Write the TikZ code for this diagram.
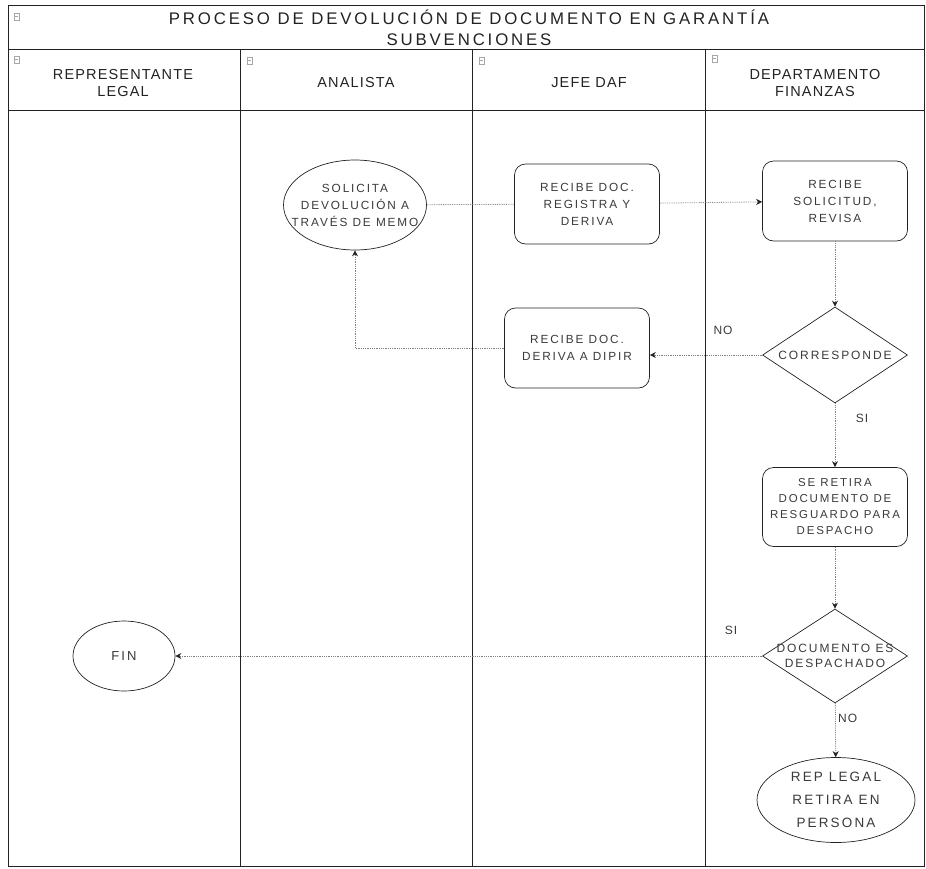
\documentclass[tikz,border=0pt]{standalone}
\usepackage{fontspec}
\setmainfont{Liberation Sans}
\newfontfamily\titlefont[LetterSpace=17]{Liberation Sans}
\newfontfamily\headfont[LetterSpace=8]{Liberation Sans}
\newfontfamily\boxfont[LetterSpace=16]{Liberation Sans}
\usetikzlibrary{shapes.geometric,arrows.meta}

\definecolor{ink}{HTML}{222222}
\definecolor{txt}{HTML}{3A3A3A}
\definecolor{conn}{HTML}{808080}

\tikzset{
  lane/.style={draw=ink, line width=0.8pt},
  procbox/.style={draw=ink, line width=0.7pt, rounded corners=11pt, minimum width=145pt,
    minimum height=80pt, align=center, inner sep=1pt, text=txt,
    font=\boxfont\fontsize{11.8}{17}\selectfont},
  oval/.style={draw=ink, line width=0.7pt, ellipse, inner sep=0pt, align=center, text=txt,
    font=\boxfont\fontsize{11.8}{17}\selectfont},
  decision/.style={draw=ink, line width=0.7pt, diamond, aspect=1.5, inner xsep=-20pt,
    inner ysep=0pt, minimum width=145pt, minimum height=96pt, align=center, text=txt,
    font=\boxfont\fontsize{12}{14.5}\selectfont},
  flow/.style={draw=conn, line width=0.8pt, densely dotted},
  flowarrow/.style={flow, -{Stealth[length=6pt,width=6pt,color=ink]}},
  tag/.style={text=txt, font=\headfont\fontsize{12}{14}\selectfont, inner sep=0pt},
  headtext/.style={align=center, text=ink, font=\headfont\fontsize{14.5}{17}\selectfont},
  icon/.style={draw=gray!70, line width=0.5pt}
}

\begin{document}
\begin{tikzpicture}[x=1pt,y=-1pt]
\useasboundingbox (0,0) rectangle (926,868);

% pool frame, title row, header row and lane dividers
\draw[lane] (8,5) rectangle (924,866);
\draw[lane] (8,49) -- (924,49);
\draw[lane] (8,110) -- (924,110);
\foreach \x in {240,472,705} \draw[lane] (\x,49) -- (\x,866);

% collapse markers in the header cells
\foreach \x/\y in {14/13,14/56,247/57,479/57,712/55} {
  \draw[icon] (\x,\y) rectangle ++(5,7);
  \draw[icon] (\x+1,\y+3.5) -- ++(3,0);
}

% title
\node[font=\titlefont\fontsize{16.8}{21}\selectfont, text=ink, align=center] (title) at (469,28)
  {PROCESO DE DEVOLUCIÓN DE DOCUMENTO EN GARANTÍA\\SUBVENCIONES};

% lane headers
\node[headtext] (h1) at (123,83) {REPRESENTANTE\\LEGAL};
\node[headtext] (h2) at (356,83) {ANALISTA};
\node[headtext] (h3) at (589,83) {JEFE DAF};
\node[headtext] (h4) at (815,83) {DEPARTAMENTO\\FINANZAS};

% activities
\node[oval, minimum width=143pt, minimum height=90pt, inner xsep=-17pt, inner ysep=-8pt] (memo) at (355,205)
  {SOLICITA\\DEVOLUCIÓN A\\TRAVÉS DE MEMO};
\node[procbox] (regdoc) at (587,204) {RECIBE DOC.\\REGISTRA Y\\DERIVA};
\node[procbox] (revisa) at (835,201) {RECIBE\\SOLICITUD,\\REVISA};
\node[decision] (corr) at (835,355) {CORRESPONDE};
\node[procbox] (dipir) at (577,348) {RECIBE DOC.\\DERIVA A DIPIR};
\node[procbox, minimum height=79pt, font=\boxfont\fontsize{11.5}{16}\selectfont] (retira) at (835,507)
  {SE RETIRA\\DOCUMENTO DE\\RESGUARDO PARA\\DESPACHO};
\node[decision, minimum height=94pt] (desp) at (835,656) {DOCUMENTO ES\\DESPACHADO};
\node[oval, minimum width=102pt, minimum height=70pt,
  font=\boxfont\fontsize{13}{16}\selectfont] (fin) at (124,656) {FIN};
\node[oval, minimum width=158pt, minimum height=85pt,
  font=\boxfont\fontsize{13.5}{23}\selectfont] (rep) at (836,800)
  {REP LEGAL\\RETIRA EN\\PERSONA};

% connectors
\draw[flow] (memo) -- (regdoc);
\draw[flowarrow] (regdoc) -- (revisa);
\draw[flowarrow] (revisa) -- (corr);
\draw[flowarrow] (corr.west) -- (corr.west -| dipir.east);
\draw[flowarrow] (dipir.west) -| (memo.south);
\draw[flowarrow] (corr) -- (retira);
\draw[flowarrow] (retira) -- (desp);
\draw[flowarrow] (desp.west) -- (fin.east);
\draw[flowarrow] (desp) -- (rep);

% branch labels
\node[tag] (lno1) at (723,330) {NO};
\node[tag] (lsi1) at (862,418) {SI};
\node[tag] (lsi2) at (731,630) {SI};
\node[tag, anchor=west] (lno2) at (838,718) {NO};
\end{tikzpicture}
\end{document}
